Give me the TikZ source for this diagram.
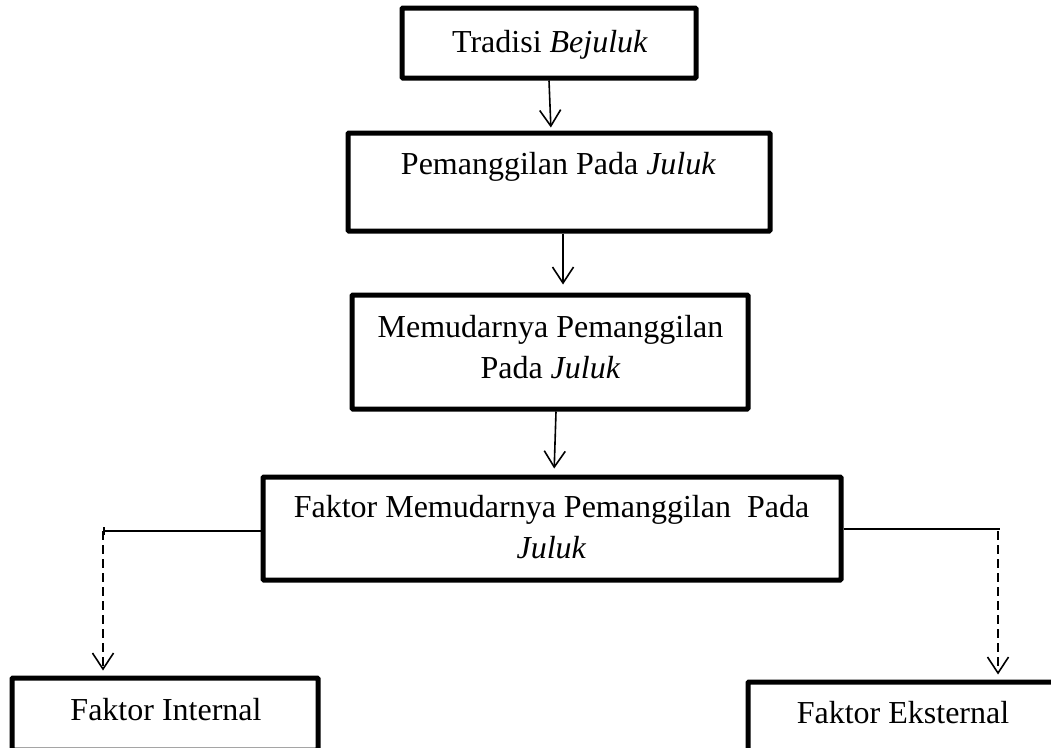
\documentclass[tikz,border=0pt]{standalone}
\usepackage{fontspec}
\setmainfont{Liberation Serif}
\usetikzlibrary{arrows.meta}
\begin{document}
\begin{tikzpicture}[x=1pt,y=-1pt,
  box/.style={draw=black,line width=5pt,rounded corners=1pt,inner sep=0pt,fill=none},
  txt/.style={inner sep=0pt,align=center,text height=22pt,text depth=7pt,font=\fontsize{32}{40.5}\selectfont},
  conn/.style={line width=1.6pt,-{Straight Barb[length=16pt,width=21pt,line width=1.6pt]}},
  plainline/.style={line width=1.6pt},
  dashline/.style={line width=1.6pt,dash pattern=on 9pt off 5pt,-{Straight Barb[length=16pt,width=21pt,line width=1.6pt]}}]
\useasboundingbox (0,0) rectangle (1051,747);
\clip (0,0) rectangle (1051,747);
% boxes
\node[box,minimum width=294pt,minimum height=70pt] (b1) at (549,43) {};
\node[box,minimum width=422pt,minimum height=98pt] (b2) at (559,182) {};
\node[box,minimum width=396pt,minimum height=114pt] (b3) at (550,352) {};
\node[box,minimum width=578pt,minimum height=103pt] (b4) at (552,528.5) {};
\node[box,minimum width=306pt,minimum height=72pt] (b5) at (165,714) {};
\node[box,minimum width=310pt,minimum height=70pt] (b6) at (903,717) {};
% texts
\node[txt] (t1) at (550,44.5) {Tradisi \textit{Bejuluk}};
\node[txt] (t2) at (558.5,166.5) {Pemanggilan Pada \textit{Juluk}};
\node[txt,font=\fontsize{32}{41}\selectfont] (t3) at (550.5,370.5) {Memudarnya Pemanggilan\\Pada \textit{Juluk}};
\node[txt] (t4) at (551.5,550.5) {Faktor Memudarnya Pemanggilan~ Pada\\\textit{Juluk}};
\node[txt] (t5) at (166,712.5) {Faktor Internal};
\node[txt] (t6) at (903,715.5) {Faktor Eksternal};
% connectors
\draw[conn,shorten >=3pt] (b1.south) -- ([xshift=2pt]b1.south |- b2.north);
\draw[conn,shorten >=8pt] ([xshift=4pt]b2.south) -- ([xshift=4pt]b2.south |- b3.north);
\draw[conn,shorten >=6pt] ([xshift=6pt]b3.south) -- ([xshift=4pt]b3.south |- b4.north);
\coordinate (L) at (103,531);
\coordinate (R) at (1000,529);
\coordinate (R2) at (998,531);
\draw[plainline,-{Bar[width=8pt,line width=1.6pt]}] (b4.west |- L) -- (L);
\draw[plainline] (b4.east |- R) -- (R);
\draw[dashline,shorten >=5pt] (L) -- (L |- b5.north);
\draw[dashline,shorten >=5pt] (R2) -- (R2 |- b6.north);
\end{tikzpicture}
\end{document}
